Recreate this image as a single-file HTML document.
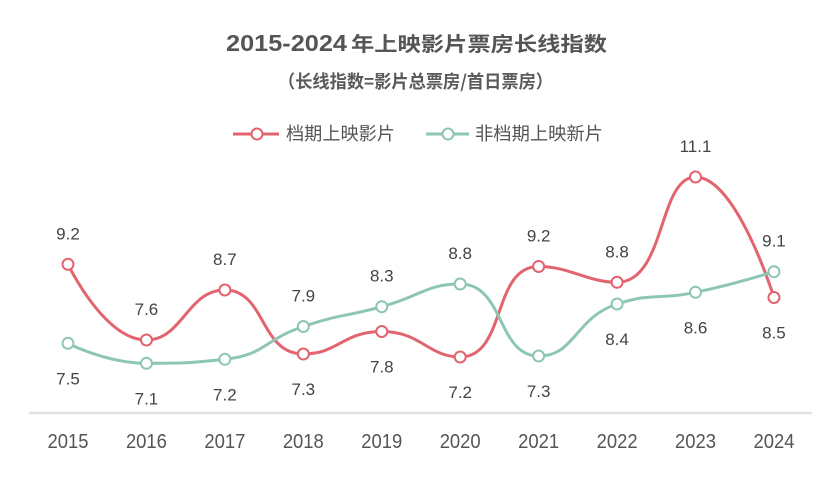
<!DOCTYPE html>
<html>
<head>
<meta charset="utf-8">
<style>
  html,body{margin:0;padding:0;background:#fff;}
  body{width:834px;height:489px;overflow:hidden;}
  svg{display:block;}
  text{font-family:"Liberation Sans","Noto Sans CJK SC",sans-serif;}
</style>
</head>
<body>
<svg id="chart" width="834" height="489" viewBox="0 0 834 489" xmlns="http://www.w3.org/2000/svg">
  <rect width="834" height="489" fill="#fff"/>
  <!-- Title -->
  <text x="226" y="51" font-size="23" font-weight="bold" fill="#555" textLength="121" lengthAdjust="spacingAndGlyphs">2015-2024</text>
  <text x="351" y="51" font-size="20" font-weight="bold" fill="#555" textLength="256" lengthAdjust="spacingAndGlyphs" style="font-family:'Noto Sans CJK SC',sans-serif">年上映影片票房长线指数</text>
  <!-- Subtitle -->
  <text x="278" y="88" font-size="18" font-weight="bold" fill="#5a5a5a" textLength="275" lengthAdjust="spacingAndGlyphs" style="font-family:'Noto Sans CJK SC',sans-serif">（长线指数=影片总票房/首日票房）</text>

  <!-- Legend -->
  <line x1="233" y1="134" x2="279" y2="134" stroke="#e2646e" stroke-width="3"/>
  <circle cx="257" cy="134" r="5.5" fill="#fff" stroke="#e2646e" stroke-width="2"/>
  <text x="286" y="140" font-size="18" fill="#555" textLength="109" lengthAdjust="spacingAndGlyphs">档期上映影片</text>
  <line x1="426" y1="134" x2="469" y2="134" stroke="#8ec6b6" stroke-width="3"/>
  <circle cx="448" cy="134" r="5.5" fill="#fff" stroke="#8ec6b6" stroke-width="2"/>
  <text x="475" y="140" font-size="18" fill="#555" textLength="128" lengthAdjust="spacingAndGlyphs">非档期上映新片</text>

  <!-- Axis -->
  <line x1="29" y1="413" x2="812" y2="413" stroke="#e2e2e2" stroke-width="2.5"/>

  <g id="years" font-size="20" fill="#555" text-anchor="middle"></g>
  <path id="redLine" fill="none" stroke="#e2646e" stroke-width="3" stroke-linejoin="round"/>
  <path id="tealLine" fill="none" stroke="#8ec6b6" stroke-width="3" stroke-linejoin="round"/>
  <g id="markers"></g>
  <g id="labels" font-size="17" fill="#444" text-anchor="middle"></g>
</svg>
<script>
(function(){
  var NS="http://www.w3.org/2000/svg";
  var xs=[];
  for(var i=0;i<10;i++) xs.push(68+78.44*i);
  var redY=[264.3,340,290,354,331.5,357,266.5,282.3,177,297.5];
  var tealY=[343.3,363.3,359.3,326.5,306.7,284,356,304,292.3,271.7];
  var redV=["9.2","7.6","8.7","7.3","7.8","7.2","9.2","8.8","11.1","8.5"];
  var tealV=["7.5","7.1","7.2","7.9","8.3","8.8","7.3","8.4","8.6","9.1"];
  function pts(ys){return ys.map(function(y,i){return [xs[i],y];});}
  function smoothPath(p,s){
    var d="M"+p[0][0]+","+p[0][1];
    var cx0=p[0][0],cy0=p[0][1],n=p.length;
    for(var i=1;i<n;i++){
      var x=p[i][0],y=p[i][1],px=p[i-1][0],py=p[i-1][1];
      var cx1,cy1,nx0,ny0;
      if(i===n-1){cx1=x;cy1=y;}
      else{
        var nx=p[i+1][0],ny=p[i+1][1];
        var vx=nx-px,vy=ny-py;
        var l0=Math.hypot(x-px,y-py),l1=Math.hypot(nx-x,ny-y);
        var r=l1/(l0+l1);
        nx0=x+vx*s*r;ny0=y+vy*s*r;
        nx0=Math.min(nx0,Math.max(nx,x));ny0=Math.min(ny0,Math.max(ny,y));
        nx0=Math.max(nx0,Math.min(nx,x));ny0=Math.max(ny0,Math.min(ny,y));
        vx=nx0-x;vy=ny0-y;
        cx1=x-vx*l0/l1;cy1=y-vy*l0/l1;
        cx1=Math.min(cx1,Math.max(px,x));cy1=Math.min(cy1,Math.max(py,y));
        cx1=Math.max(cx1,Math.min(px,x));cy1=Math.max(cy1,Math.min(py,y));
        vx=x-cx1;vy=y-cy1;
        nx0=x+vx*l1/l0;ny0=y+vy*l1/l0;
      }
      d+=" C"+cx0.toFixed(2)+","+cy0.toFixed(2)+" "+cx1.toFixed(2)+","+cy1.toFixed(2)+" "+x.toFixed(2)+","+y.toFixed(2);
      cx0=nx0;cy0=ny0;
    }
    return d;
  }
  document.getElementById("redLine").setAttribute("d",smoothPath(pts(redY),0.5));
  document.getElementById("tealLine").setAttribute("d",smoothPath(pts(tealY),0.5));
  var mk=document.getElementById("markers");
  function circ(x,y,c){
    var e=document.createElementNS(NS,"circle");
    e.setAttribute("cx",x);e.setAttribute("cy",y);e.setAttribute("r",5.5);
    e.setAttribute("fill","#fff");e.setAttribute("stroke",c);e.setAttribute("stroke-width",2);
    mk.appendChild(e);
  }
  var lb=document.getElementById("labels");
  function txt(g,x,y,s,extra){
    var e=document.createElementNS(NS,"text");
    e.setAttribute("x",x);e.setAttribute("y",y);e.textContent=s;
    if(extra){for(var k in extra)e.setAttribute(k,extra[k]);}
    g.appendChild(e);
  }
  var yrs=document.getElementById("years");
  for(var i=0;i<10;i++){
    circ(xs[i],redY[i],"#e2646e");
    circ(xs[i],tealY[i],"#8ec6b6");
    var redAbove=redY[i]<tealY[i];
    if(redAbove){
      txt(lb,xs[i],redY[i]-25,redV[i]);
      txt(lb,xs[i],tealY[i]+41,tealV[i]);
    }else{
      txt(lb,xs[i],tealY[i]-25,tealV[i]);
      txt(lb,xs[i],redY[i]+41,redV[i]);
    }
    txt(yrs,xs[i],448,String(2015+i),{textLength:"41",lengthAdjust:"spacingAndGlyphs"});
  }
})();
</script>
</body>
</html>
